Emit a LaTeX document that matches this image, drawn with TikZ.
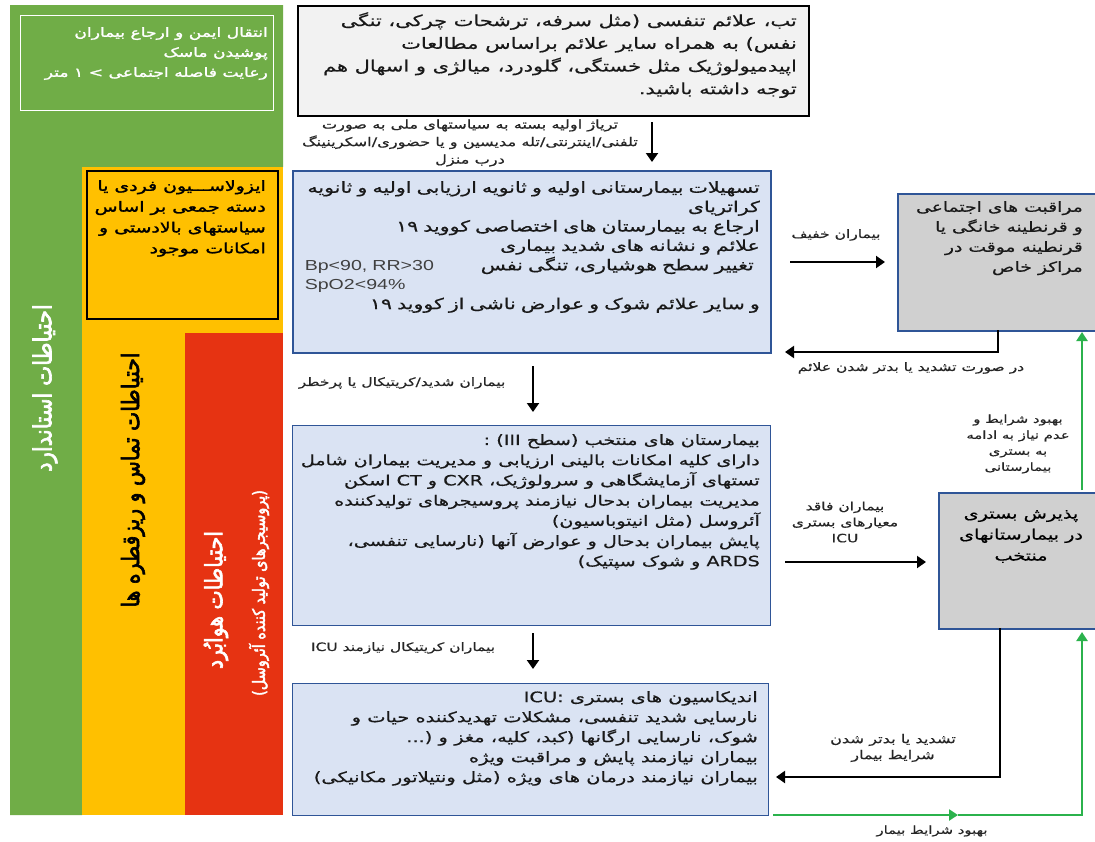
\documentclass[tikz,border=0pt]{standalone}
\usepackage{fontspec}
\usetikzlibrary{arrows.meta}
\TeXXeTstate=1
\newfontfamily\fa[Script=Arabic,FakeStretch=1.35,FakeBold=0.6]{DejaVu Sans}
\newfontfamily\fab[Script=Arabic,FakeStretch=1.35,FakeBold=1.8]{DejaVu Sans}
\newfontfamily\fbd[Script=Arabic,FakeStretch=0.85,FakeBold=2.5]{DejaVu Sans}
\newfontfamily\la[FakeStretch=1.35]{Liberation Sans}
\newcommand\myR[1]{\beginR #1\endR}
\lineskiplimit=-30pt
\lineskip=0pt
\definecolor{cgreen}{HTML}{70AD47}
\definecolor{cyellow}{HTML}{FFC000}
\definecolor{cred}{HTML}{E63312}
\definecolor{cblue}{HTML}{DAE3F3}
\definecolor{cborder}{HTML}{2F5597}
\definecolor{cgray}{HTML}{D0D0D0}
\definecolor{ctop}{HTML}{F2F2F2}
\definecolor{carrowg}{HTML}{2BB24C}
\begin{document}
\begin{tikzpicture}[x=1pt,y=-1pt,
  bluebox/.style={draw=cborder, fill=cblue, line width=1.2pt, anchor=north west, inner sep=0pt},
  graybox/.style={draw=cborder, fill=cgray, line width=2pt, anchor=north west, inner sep=0pt},
  boxtext/.style={font={\fa\fontsize{14.5}{20}\selectfont}, align=right, inner sep=0pt, anchor=north east, text=black!90},
  lbl/.style={font={\fa\fontsize{11.5}{16}\selectfont}, align=center, inner sep=0pt, text=black!85},
  band/.style={font={\fbd\fontsize{24}{26}\selectfont}, inner sep=0pt, rotate=90},
  arr/.style={line width=2pt, -{Triangle[length=9pt,width=12pt]}},
  garr/.style={line width=2.2pt, draw=carrowg, -{Triangle[length=9pt,width=11pt]}}
]
\useasboundingbox (0,0) rectangle (1095,841);
\fill[white] (0,0) rectangle (1095,841);
% bands
\fill[cgreen] (10,5) -- (283,5) -- (283,167) -- (82,167) -- (82,815) -- (10,815) -- cycle;
\fill[cyellow] (82,167) rectangle (283,815);
\fill[cred] (185,333) rectangle (283,815);

\node[draw=white, line width=1.2pt, minimum width=253pt, minimum height=95pt, anchor=north west] (gbox) at (20,15) {};
\node[boxtext, text=white, font={\fab\fontsize{12.7}{20}\selectfont}] (gtext) at (268,27) {\myR{انتقال ایمن و ارجاع بیماران}\\\myR{پوشیدن ماسک}\\\myR{رعایت فاصله اجتماعی > ۱ متر}};

\node[draw=black, line width=2pt, minimum width=191pt, minimum height=148pt, anchor=north west] (ybox) at (86,170) {};
\node[boxtext, text=black, font={\fab\fontsize{14}{20.8}\selectfont}] (ytext) at (266,180) {\myR{ایزولاســـیون فردی یا}\\\myR{دسته جمعی بر اساس}\\\myR{سیاستهای بالادستی و}\\\myR{امکانات موجود}};

\node[band, text=white, font={\fbd\fontsize{25}{27}\selectfont}] (gband) at (45,388) {\myR{احتیاطات استاندارد}};
\node[band, text=black] (yband) at (133,480) {\myR{احتیاطات تماس و ریزقطره ها}};
\node[band, text=white] (rband) at (216,600) {\myR{احتیاطات هوابُرد}};
\node[band, text=white, font={\fbd\fontsize{17}{19}\selectfont}] (rband2) at (259,593) {\myR{(پروسیجرهای تولید کننده آئروسل)}};

% top box
\node[draw=black, fill=ctop, line width=2pt, minimum width=511pt, minimum height=110pt, anchor=north west] (top) at (297,5) {};
\node[boxtext, font={\fa\fontsize{15.5}{22.7}\selectfont}] (toptext) at (797,12) {\myR{تب، علائم تنفسی (مثل سرفه، ترشحات چرکی، تنگی}\\\myR{نفس) به همراه سایر علائم براساس مطالعات}\\\myR{اپیدمیولوژیک مثل خستگی، گلودرد، میالژی و اسهال هم}\\\myR{توجه داشته باشید.}};

\coordinate (a1s) at (652,122);
\coordinate (a1e) at (652,162);
\draw[arr] (a1s) -- (a1e);
\node[lbl, font={\fa\fontsize{12}{17.5}\selectfont}] (l1) at (470,143) {\myR{تریاژ اولیه بسته به سیاستهای ملی به صورت}\\\myR{تلفنی/اینترنتی/تله مدیسین و یا حضوری/اسکرینینگ}\\\myR{درب منزل}};

% blue box 1
\node[bluebox, line width=2pt, minimum width=478pt, minimum height=182pt] (b1) at (292,170) {};
\node[boxtext, text width=455pt, font={\fa\fontsize{15.2}{19.4}\selectfont}] (b1text) at (760,181) {\myR{تسهیلات بیمارستانی اولیه و ثانویه ارزیابی اولیه و ثانویه}\\\myR{کراتریای}\\\myR{ارجاع به بیمارستان های اختصاصی کووید ۱۹}\\\myR{علائم و نشانه های شدید بیماری}\\{\la\fontsize{14.5}{19.4}\selectfont\color{black!75}Bp<90, RR>30}\hfill\myR{تغییر سطح هوشیاری، تنگی نفس}\kern6pt\\{\la\fontsize{14.5}{19.4}\selectfont\color{black!75}SpO2<94\%}\hfill\mbox{}\\\myR{و سایر علائم شوک و عوارض ناشی از کووید ۱۹}};

% gray box 1
\node[graybox, minimum width=210pt, minimum height=137pt] (g1) at (897,193) {};
\node[boxtext, font={\fa\fontsize{13.9}{20}\selectfont}] (g1text) at (1083,201) {\myR{مراقبت های اجتماعی}\\\myR{و قرنطینه خانگی یا}\\\myR{قرنطینه موقت در}\\\myR{مراکز خاص}};

\coordinate (a2s) at (790,262);
\coordinate (a2e) at (885,262);
\draw[arr] (a2s) -- (a2e);
\node[lbl] (l2) at (836,235) {\myR{بیماران خفیف}};

\coordinate (a3s) at (998,330);
\coordinate (a3e) at (785,352);
\draw[arr] (a3s) |- (a3e);
\node[lbl] (l3) at (911,368) {\myR{در صورت تشدید یا بدتر شدن علائم}};

\coordinate (a4s) at (533,366);
\coordinate (a4e) at (533,412);
\draw[arr] (a4s) -- (a4e);
\node[lbl] (l4) at (402,383) {\myR{بیماران شدید/کریتیکال یا پرخطر}};

% blue box 2
\node[bluebox, minimum width=478pt, minimum height=200pt] (b2) at (292,425) {};
\node[boxtext, font={\fa\fontsize{14.2}{20.2}\selectfont}] (b2text) at (760,434) {\myR{بیمارستان های منتخب (سطح (III :}\\\myR{دارای کلیه امکانات بالینی ارزیابی و مدیریت بیماران شامل}\\\myR{تستهای آزمایشگاهی و سرولوژیک، CXR و CT اسکن}\\\myR{مدیریت بیماران بدحال نیازمند پروسیجرهای تولیدکننده}\\\myR{آئروسل (مثل انیتوباسیون)}\\\myR{پایش بیماران بدحال و عوارض آنها (نارسایی تنفسی،}\\\myR{ARDS و شوک سپتیک)}};

% gray box 2
\node[graybox, minimum width=170pt, minimum height=136pt] (g2) at (938,492) {};
\node[font={\fa\fontsize{14.2}{21}\selectfont}, align=center, inner sep=0pt, anchor=north] (g2text) at (1021,510) {\myR{پذیرش بستری}\\\myR{در بیمارستانهای}\\\myR{منتخب}};

\coordinate (a5s) at (785,562);
\coordinate (a5e) at (926,562);
\draw[arr] (a5s) -- (a5e);
\node[lbl] (l5) at (845,522) {\myR{بیماران فاقد}\\\myR{معیارهای بستری}\\ICU};

\coordinate (g5s) at (1082,490);
\coordinate (g5e) at (1082,332);
\draw[garr] (g5s) -- (g5e);
\node[lbl, font={\fa\fontsize{11}{16}\selectfont}] (l6) at (1018,444) {\myR{بهبود شرایط و}\\\myR{عدم نیاز به ادامه}\\\myR{به بستری}\\\myR{بیمارستانی}};

\coordinate (a6s) at (533,633);
\coordinate (a6e) at (533,669);
\draw[arr] (a6s) -- (a6e);
\node[lbl] (l7) at (403,648) {\myR{بیماران کریتیکال نیازمند ICU}};

% blue box 3
\node[bluebox, minimum width=476pt, minimum height=132pt] (b3) at (292,683) {};
\node[boxtext, font={\fa\fontsize{14.4}{20}\selectfont}] (b3text) at (758,691) {\myR{اندیکاسیون های بستری ICU:}\\\myR{نارسایی شدید تنفسی، مشکلات تهدیدکننده حیات و}\\\myR{شوک، نارسایی ارگانها (کبد، کلیه، مغز و (...}\\\myR{بیماران نیازمند پایش و مراقبت ویژه}\\\myR{بیماران نیازمند درمان های ویژه (مثل ونتیلاتور مکانیکی)}};

\coordinate (a7s) at (1000,628);
\coordinate (a7e) at (776,777);
\draw[arr] (a7s) |- (a7e);
\node[lbl, font={\fa\fontsize{12}{16}\selectfont}] (l8) at (893,748) {\myR{تشدید یا بدتر شدن}\\\myR{شرایط بیمار}};

\coordinate (g8s) at (773,815);
\coordinate (g8m) at (958,815);
\coordinate (g8c) at (1082,815);
\coordinate (g8e) at (1082,632);
\draw[garr] (g8s) -- (g8m);
\draw[garr] (g8m) -- (g8c) -- (g8e);
\node[lbl, font={\fa\fontsize{11}{16}\selectfont}] (l9) at (932,831) {\myR{بهبود شرایط بیمار}};
\end{tikzpicture}
\end{document}
